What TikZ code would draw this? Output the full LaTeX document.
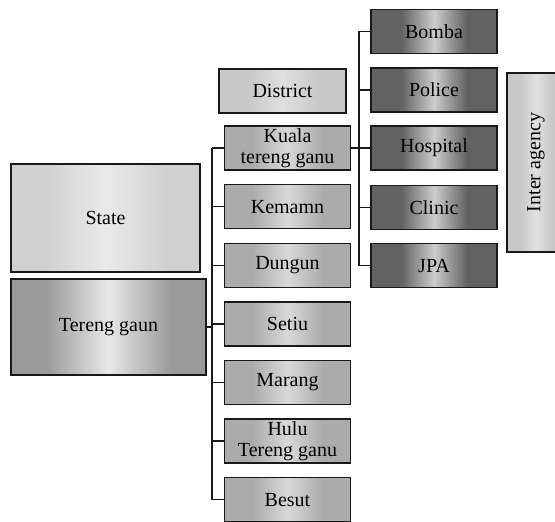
\documentclass[tikz,border=0pt]{standalone}
\usepackage{fontspec}
\setmainfont{Liberation Serif}
\definecolor{stategray}{HTML}{D0D0D0}
\definecolor{statelight}{HTML}{EAEAEA}
\definecolor{tgray}{HTML}{9A9A9A}
\definecolor{tlight}{HTML}{E8E8E8}
\definecolor{distgray}{HTML}{ABABAB}
\definecolor{distlight}{HTML}{D8D8D8}
\definecolor{agencygray}{HTML}{626262}
\definecolor{agencylight}{HTML}{CCCCCC}
\definecolor{labelgray}{HTML}{C8C8C8}
\definecolor{labellight}{HTML}{E0E0E0}
\pgfdeclarehorizontalshading{stateshade}{100bp}{color(0bp)=(stategray); color(34bp)=(stategray);
  color(50bp)=(statelight); color(66bp)=(stategray); color(100bp)=(stategray)}
\pgfdeclarehorizontalshading{tshade}{100bp}{color(0bp)=(tgray); color(34bp)=(tgray);
  color(50bp)=(tlight); color(66bp)=(tgray); color(100bp)=(tgray)}
\pgfdeclarehorizontalshading{distshade}{100bp}{color(0bp)=(distgray); color(36bp)=(distgray);
  color(50bp)=(distlight); color(64bp)=(distgray); color(100bp)=(distgray)}
\pgfdeclarehorizontalshading{agencyshade}{100bp}{color(0bp)=(agencygray); color(37bp)=(agencygray);
  color(50bp)=(agencylight); color(63bp)=(agencygray); color(100bp)=(agencygray)}
\pgfdeclarehorizontalshading{labelshade}{100bp}{color(0bp)=(labelgray); color(36bp)=(labelgray);
  color(50bp)=(labellight); color(64bp)=(labelgray); color(100bp)=(labelgray)}

\begin{document}
\begin{tikzpicture}[x=1pt,y=-1pt,
  box/.style={draw=black!90,line width=1.4pt,inner sep=0pt,align=center,
    font=\fontsize{20}{21}\selectfont},
  statebox/.style={box,minimum width=189pt,minimum height=108pt,shading=stateshade},
  tbox/.style={box,minimum width=195pt,minimum height=96pt,shading=tshade},
  distbox/.style={box,minimum width=126pt,minimum height=44pt,shading=distshade},
  agencybox/.style={box,minimum width=126pt,minimum height=44pt,shading=agencyshade},
  labelbox/.style={box,shading=labelshade},
  bus/.style={line width=1.4pt,draw=black!90}]
\useasboundingbox (0,0) rectangle (555,522);

\node[statebox] (state) at (105.5,218) {State};
\node[tbox] (tereng) at (108.5,327) {Tereng gaun};
\node[labelbox,minimum width=127pt,minimum height=44pt] (district) at (282.5,91) {District};

\node[distbox] (kuala) at (287.5,148) {Kuala\\tereng ganu};
\node[distbox] (kemamn) at (287.5,206.6) {Kemamn};
\node[distbox] (dungun) at (287.5,265.2) {Dungun};
\node[distbox] (setiu) at (287.5,323.8) {Setiu};
\node[distbox] (marang) at (287.5,382.4) {Marang};
\node[distbox] (hulu) at (287.5,441) {Hulu\\Tereng ganu};
\node[distbox] (besut) at (287.5,499.6) {Besut};

\node[agencybox] (bomba) at (434,31.4) {Bomba};
\node[agencybox] (police) at (434,89.8) {Police};
\node[agencybox] (hospital) at (434,148) {Hospital};
\node[agencybox] (clinic) at (434,207.6) {Clinic};
\node[agencybox] (jpa) at (434,265.6) {JPA};

\node[labelbox,minimum width=58pt,minimum height=179pt] (inter) at (536,162.5)
  {\rotatebox{90}{Inter agency}};

\coordinate (dbus) at (212,0);
\coordinate (abus) at (359,0);

\draw[bus] (tereng.east) -- (tereng.east -| dbus);
\draw[bus] (dbus |- kuala) -- (dbus |- besut);
\draw[bus] (dbus |- kuala) -- (kuala.west);
\draw[bus] (dbus |- kemamn) -- (kemamn.west);
\draw[bus] (dbus |- dungun) -- (dungun.west);
\draw[bus] (dbus |- setiu) -- (setiu.west);
\draw[bus] (dbus |- marang) -- (marang.west);
\draw[bus] (dbus |- hulu) -- (hulu.west);
\draw[bus] (dbus |- besut) -- (besut.west);

\draw[bus] (kuala.east) -- (hospital.west);
\draw[bus] (abus |- bomba) -- (abus |- jpa);
\draw[bus] (abus |- bomba) -- (bomba.west);
\draw[bus] (abus |- police) -- (police.west);
\draw[bus] (abus |- clinic) -- (clinic.west);
\draw[bus] (abus |- jpa) -- (jpa.west);
\end{tikzpicture}
\end{document}
